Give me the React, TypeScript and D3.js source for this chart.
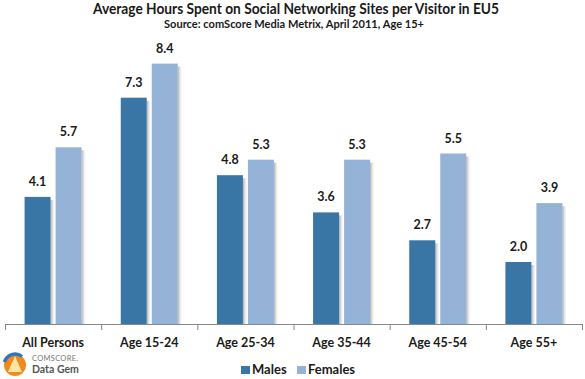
import React from "react";
import * as d3 from "d3";

const categories = ["All Persons", "Age 15-24", "Age 25-34", "Age 35-44", "Age 45-54", "Age 55+"];
const males = [4.1, 7.3, 4.8, 3.6, 2.7, 2.0];
const females = [5.7, 8.4, 5.3, 5.3, 5.5, 3.9];
const seriesNames = ["Males", "Females"];
const seriesColors = ["#3a76a5", "#95b3d7"];

const W = 585, H = 379;
const FONT = "Lato, 'Open Sans', sans-serif";

export default function App() {
  const x = d3.scaleBand().domain(categories).range([5, 582]).paddingInner(0).paddingOuter(0);
  const y = d3.scaleLinear().domain([0, 10]).range([324, 14]);
  const bw = 26, gap = 5;
  const series = [males, females];
  return (
    <svg width={W} height={H} style={{ position: "absolute", left: 0, top: 0, background: "#fff" }} fontFamily={FONT}>
      <defs>
        <linearGradient id="shadow" x1="0" x2="1" y1="0" y2="0">
          <stop offset="0" stopColor="#999" stopOpacity="0.8" />
          <stop offset="1" stopColor="#ddd" stopOpacity="0.1" />
        </linearGradient>
      </defs>
      <rect width={W} height={H} fill="#fff" />
      <text x={93} y={14} fontSize={14.5} fontWeight="bold" fill="#1a1a1a" textLength={406} lengthAdjust="spacingAndGlyphs">Average Hours Spent on Social Networking Sites per Visitor in EU5</text>
      <text x={164} y={27.5} fontSize={12} fontWeight="bold" fill="#1a1a1a" textLength={260} lengthAdjust="spacingAndGlyphs">Source: comScore Media Metrix, April 2011, Age 15+</text>
      {categories.map((c, i) => {
        const cx = x(c)! + x.bandwidth() / 2;
        return (
          <g key={c}>
            {series.map((s, k) => {
              const bx = cx - gap / 2 - bw + k * (bw + gap);
              const top = y(s[i]);
              return (
                <g key={k}>
                  <rect x={bx + bw} y={top + 3} width={4} height={y(0) - top - 3} fill="url(#shadow)" />
                  <rect x={bx} y={top} width={bw} height={y(0) - top} fill={seriesColors[k]} />
                  <text x={bx + bw / 2} y={top - 11} textAnchor="middle" fontSize={12.5} fontWeight="bold" fill="#1a1a1a">{s[i].toFixed(1)}</text>
                </g>
              );
            })}
            <text x={cx} y={347} textAnchor="middle" fontSize={12.5} fontWeight="bold" fill="#1a1a1a">{c}</text>
          </g>
        );
      })}
      <line x1={5} x2={582} y1={324.5} y2={324.5} stroke="#888" />
      {[...categories.map(c => x(c)!), 582].map((t, i) => (
        <line key={i} x1={t + 0.5} x2={t + 0.5} y1={324} y2={330} stroke="#888" />
      ))}
      {seriesNames.map((n, k) => {
        const lx = [241, 297][k];
        return (
          <g key={n}>
            <rect x={lx} y={366} width={9} height={8} fill={seriesColors[k]} />
            <text x={lx + 11} y={374} fontSize={13} fontWeight="bold" fill="#1a1a1a">{n}</text>
          </g>
        );
      })}
      <g>
        <circle cx={15} cy={365} r={11} fill="#f08a1e" />
        <path d="M 4.5 362 A 11 11 0 0 1 22 356.5" fill="none" stroke="#2b79b8" strokeWidth={3.5} />
        <path d="M 8 372 L 15 356 L 22 372 Z" fill="#fde6a0" />
        <text x={32} y={361} fontSize={7.5} fill="#777" letterSpacing={0.3}>COMSCORE.</text>
        <text x={32} y={373} fontSize={10.5} fontWeight="bold" fill="#555">Data Gem</text>
      </g>
    </svg>
  );
}
